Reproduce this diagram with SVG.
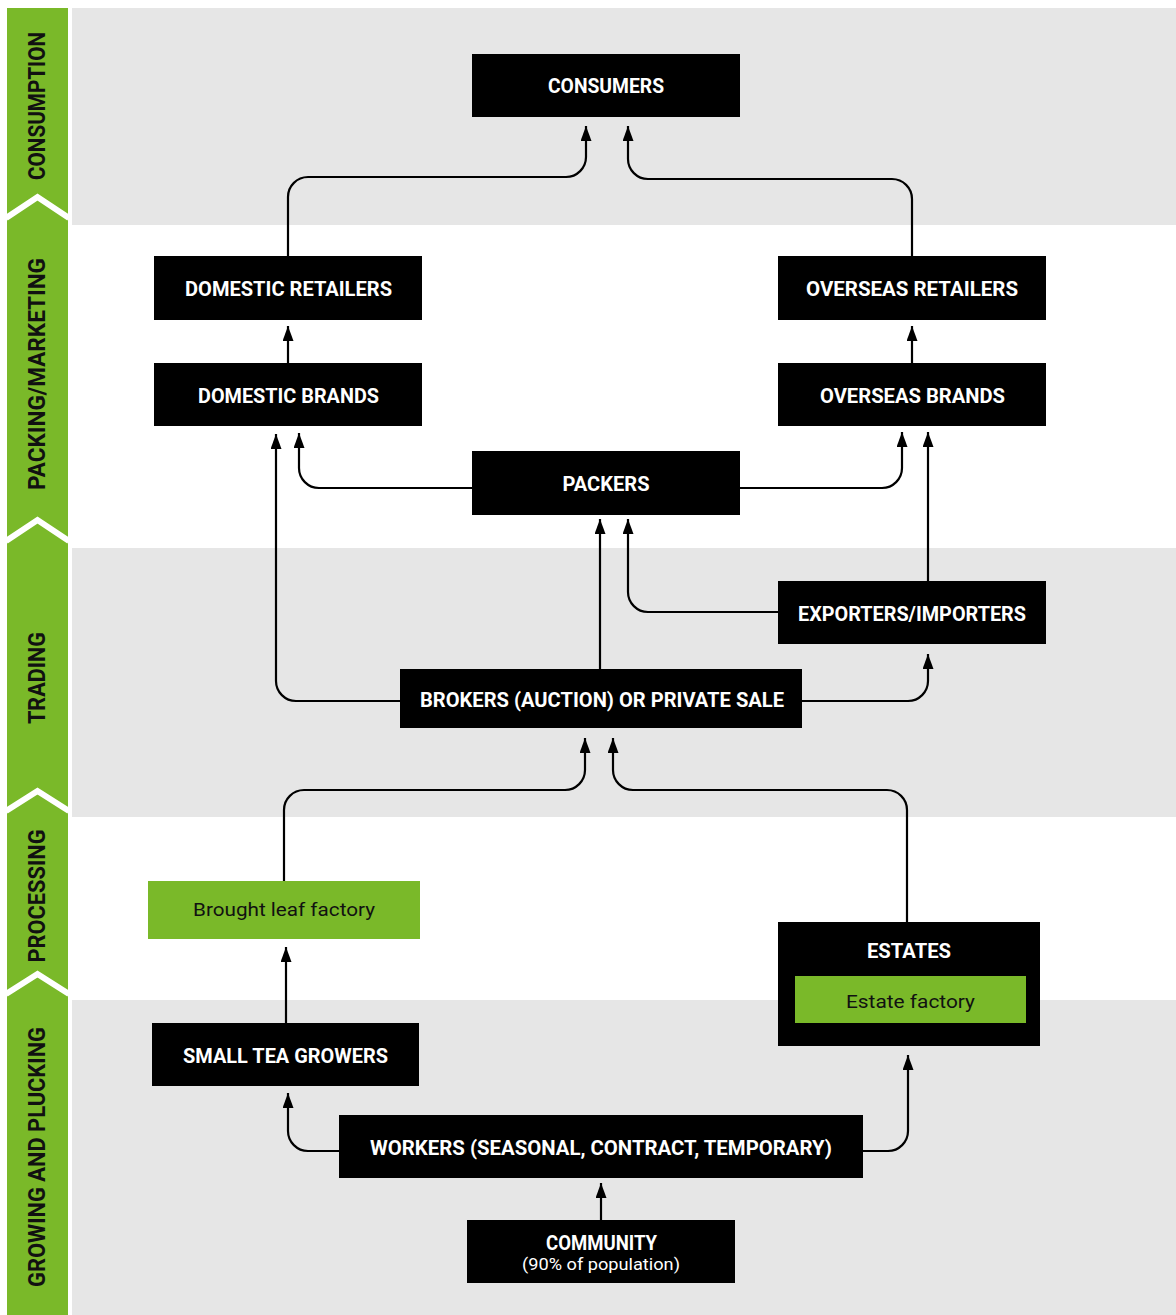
<svg xmlns="http://www.w3.org/2000/svg" width="1176" height="1315" viewBox="0 0 1176 1315">
<style>
.band{fill:#e6e6e6}
.box{fill:#000}
.gbox{fill:#7ab929}
.t{font-family:Roboto,"Liberation Sans",sans-serif;font-weight:bold;font-size:20px;fill:#fff;text-anchor:middle}
.tg{font-family:Roboto,"Liberation Sans",sans-serif;font-weight:normal;font-size:19px;fill:#111;text-anchor:middle}
.ts{font-family:Roboto,"Liberation Sans",sans-serif;font-weight:normal;font-size:17px;fill:#fff;text-anchor:middle}
.side{font-family:Roboto,"Liberation Sans",sans-serif;font-weight:bold;font-size:23px;fill:#111;text-anchor:middle}
.chev{fill:none;stroke:#fff;stroke-width:6}
.c{fill:none;stroke:#000;stroke-width:2.2;marker-end:url(#ah)}
</style>
<defs>
<marker id="ah" viewBox="0 0 15 11" refX="15" refY="5.5" markerWidth="15" markerHeight="11" markerUnits="userSpaceOnUse" orient="auto"><path d="M0,0 L15,5.5 L0,11 z" fill="#000"/></marker>
</defs>
<rect width="1176" height="1315" fill="#fff"/>
<g id="bands">
<rect class="band" x="72" y="8" width="1104" height="217"/>
<rect class="band" x="72" y="548" width="1104" height="269"/>
<rect class="band" x="72" y="1000" width="1104" height="315"/>
</g>
<g id="sidebar">
<rect x="7" y="8" width="61" height="1307" fill="#7ab929"/>
<polyline class="chev" points="6,218 37.5,197 69,218"/>
<polyline class="chev" points="6,541 37.5,520 69,541"/>
<polyline class="chev" points="6,811 37.5,791 69,811"/>
<polyline class="chev" points="6,994 37.5,974 69,994"/>
<text class="side" transform="translate(45,106) rotate(-90)" textLength="148" lengthAdjust="spacingAndGlyphs">CONSUMPTION</text>
<text class="side" transform="translate(45,374) rotate(-90)" textLength="232" lengthAdjust="spacingAndGlyphs">PACKING/MARKETING</text>
<text class="side" transform="translate(45,678) rotate(-90)" textLength="92" lengthAdjust="spacingAndGlyphs">TRADING</text>
<text class="side" transform="translate(45,896) rotate(-90)" textLength="133" lengthAdjust="spacingAndGlyphs">PROCESSING</text>
<text class="side" transform="translate(45,1157) rotate(-90)" textLength="260" lengthAdjust="spacingAndGlyphs">GROWING AND PLUCKING</text>
</g>
<g id="connectors">
<path class="c" d="M288,256 V197 A20,20 0 0 1 308,177 H566 A20,20 0 0 0 586,157 V126"/>
<path class="c" d="M912,256 V199 A20,20 0 0 0 892,179 H648 A20,20 0 0 1 628,159 V126"/>
<path class="c" d="M288,363 V326"/>
<path class="c" d="M912,363 V326"/>
<path class="c" d="M472,488 H319 A20,20 0 0 1 299,468 V433"/>
<path class="c" d="M740,488 H882 A20,20 0 0 0 902,468 V432"/>
<path class="c" d="M400,701 H296 A20,20 0 0 1 276,681 V434"/>
<path class="c" d="M600,669 V519"/>
<path class="c" d="M778,612 H648 A20,20 0 0 1 628,592 V519"/>
<path class="c" d="M928,581 V432"/>
<path class="c" d="M802,701 H908 A20,20 0 0 0 928,681 V654"/>
<path class="c" d="M284,881 V810 A20,20 0 0 1 304,790 H565 A20,20 0 0 0 585,770 V738"/>
<path class="c" d="M907,922 V810 A20,20 0 0 0 887,790 H633 A20,20 0 0 1 613,770 V738"/>
<path class="c" d="M286,1023 V947"/>
<path class="c" d="M339,1151 H308 A20,20 0 0 1 288,1131 V1093"/>
<path class="c" d="M863,1151 H888 A20,20 0 0 0 908,1131 V1055"/>
<path class="c" d="M601,1220 V1183"/>
</g>
<g id="consumers"><rect class="box" x="472" y="54" width="268" height="63"/><text class="t" x="606" y="93" textLength="116" lengthAdjust="spacingAndGlyphs">CONSUMERS</text></g>
<g id="domestic-retailers"><rect class="box" x="154" y="256" width="268" height="64"/><text class="t" x="288.5" y="296" textLength="207" lengthAdjust="spacingAndGlyphs">DOMESTIC RETAILERS</text></g>
<g id="overseas-retailers"><rect class="box" x="778" y="256" width="268" height="64"/><text class="t" x="912" y="296" textLength="212" lengthAdjust="spacingAndGlyphs">OVERSEAS RETAILERS</text></g>
<g id="domestic-brands"><rect class="box" x="154" y="363" width="268" height="63"/><text class="t" x="288.5" y="403" textLength="181" lengthAdjust="spacingAndGlyphs">DOMESTIC BRANDS</text></g>
<g id="overseas-brands"><rect class="box" x="778" y="363" width="268" height="63"/><text class="t" x="912.5" y="403" textLength="185" lengthAdjust="spacingAndGlyphs">OVERSEAS BRANDS</text></g>
<g id="packers"><rect class="box" x="472" y="451" width="268" height="64"/><text class="t" x="606" y="491" textLength="87" lengthAdjust="spacingAndGlyphs">PACKERS</text></g>
<g id="exporters-importers"><rect class="box" x="778" y="581" width="268" height="63"/><text class="t" x="912" y="621" textLength="228" lengthAdjust="spacingAndGlyphs">EXPORTERS/IMPORTERS</text></g>
<g id="brokers"><rect class="box" x="400" y="669" width="402" height="59"/><text class="t" x="602" y="707" textLength="364" lengthAdjust="spacingAndGlyphs">BROKERS (AUCTION) OR PRIVATE SALE</text></g>
<g id="brought-leaf-factory"><rect class="gbox" x="148" y="881" width="272" height="58"/><text class="tg" x="284" y="916" textLength="182" lengthAdjust="spacingAndGlyphs">Brought leaf factory</text></g>
<g id="estates"><rect class="box" x="778" y="922" width="262" height="124"/><text class="t" x="909" y="958" textLength="84" lengthAdjust="spacingAndGlyphs">ESTATES</text><rect class="gbox" x="795" y="976" width="231" height="47"/><text class="tg" x="910.5" y="1008" textLength="129" lengthAdjust="spacingAndGlyphs">Estate factory</text></g>
<g id="small-tea-growers"><rect class="box" x="152" y="1023" width="267" height="63"/><text class="t" x="285.5" y="1063" textLength="205" lengthAdjust="spacingAndGlyphs">SMALL TEA GROWERS</text></g>
<g id="workers"><rect class="box" x="339" y="1115" width="524" height="63"/><text class="t" x="601" y="1155" textLength="462" lengthAdjust="spacingAndGlyphs">WORKERS (SEASONAL, CONTRACT, TEMPORARY)</text></g>
<g id="community"><rect class="box" x="467" y="1220" width="268" height="63"/><text class="t" x="601.5" y="1250" textLength="111" lengthAdjust="spacingAndGlyphs">COMMUNITY</text><text class="ts" x="601" y="1270" textLength="158" lengthAdjust="spacingAndGlyphs">(90% of population)</text></g>
</svg>
